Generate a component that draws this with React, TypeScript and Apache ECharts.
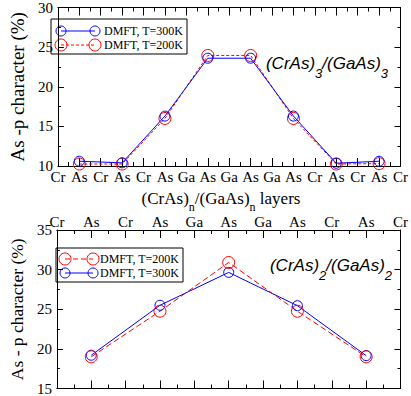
import React, { useEffect, useRef } from "react";
import * as echarts from "echarts";

const topLabels = ["Cr", "As", "Cr", "As", "Cr", "As", "Ga", "As", "Ga", "As", "Ga", "As", "Cr", "As", "Cr", "As", "Cr"];
const bottomLabels = ["Cr", "As", "Cr", "As", "Ga", "As", "Ga", "As", "Cr", "As", "Cr"];
const topYTicks = { min: 10, max: 30, step: 5 };
const bottomYTicks = { min: 15, max: 35, step: 5 };

const top300K = [10.6, 10.4, 16.3, 23.6, 23.6, 16.3, 10.35, 10.6];
const top200K = [10.25, 10.25, 16.0, 23.95, 23.95, 16.0, 10.25, 10.3];
const bottom200K = [19.0, 24.75, 30.9, 24.75, 19.0];
const bottom300K = [19.2, 25.5, 29.65, 25.45, 19.15];

const SERIF = "Liberation Serif, Times New Roman, serif";
const SANS = "Liberation Sans, Arial, sans-serif";
const BLUE = "#0000ff";
const RED = "#ff0000";

const asIndices = (labels: string[]) =>
  labels.map((l, i) => (l === "As" ? i : -1)).filter((i) => i >= 0);

const pairs = (labels: string[], vals: number[]) => {
  const xs = asIndices(labels);
  return vals.map((v, i) => [xs[i], v]);
};

function xAxisDef(grid: number, pos: "top" | "bottom", labels: string[], showLabels: boolean, margin: number) {
  return {
    gridIndex: grid,
    type: "value",
    position: pos,
    min: 0,
    max: labels.length - 1,
    interval: 1,
    axisLine: { show: true, onZero: false, lineStyle: { color: "#000", width: 1 } },
    axisTick: { show: true, inside: true, length: 8, lineStyle: { color: "#000", width: 1 } },
    minorTick: { show: true, splitNumber: 2, length: 4, lineStyle: { color: "#000", width: 1 } },
    splitLine: { show: false },
    axisLabel: {
      show: showLabels,
      margin,
      fontSize: 15,
      fontFamily: SERIF,
      color: "#000",
      formatter: (v: number) => labels[Math.round(v)] ?? "",
    },
  };
}

function yAxisDef(grid: number, pos: "left" | "right", t: { min: number; max: number; step: number }, name: string, nameSize: number) {
  const left = pos === "left";
  return {
    gridIndex: grid,
    type: "value",
    position: pos,
    min: t.min,
    max: t.max,
    interval: t.step,
    name: left ? name : "",
    nameLocation: "middle",
    nameGap: 14,
    nameTextStyle: { fontSize: nameSize, fontFamily: SERIF, color: "#000" },
    axisLine: { show: true, onZero: false, lineStyle: { color: "#000", width: 1 } },
    axisTick: { show: true, inside: true, length: 6, lineStyle: { color: "#000", width: 1 } },
    minorTick: { show: true, splitNumber: 2, length: 3, lineStyle: { color: "#000", width: 1 } },
    splitLine: { show: false },
    axisLabel: { show: left, margin: 5, fontSize: 15, fontFamily: SERIF, color: "#000" },
  };
}

function lineSeries(data: number[][], color: string, dashed: number[] | null, size: number, xi: number, yi: number) {
  return {
    type: "line",
    xAxisIndex: xi,
    yAxisIndex: yi,
    data,
    symbol: "circle",
    symbolSize: size,
    itemStyle: { color: "rgba(0,0,0,0)", borderColor: color, borderWidth: 1 },
    lineStyle: { color, width: 1, type: dashed ? dashed : "solid" },
    emphasis: { disabled: true },
  };
}

function legendRow(x1: number, x2: number, y: number, color: string, dashed: number[] | null, r: number, label: string, tx: number) {
  return [
    { type: "line", shape: { x1, y1: y, x2, y2: y }, style: { stroke: color, lineWidth: 1, lineDash: dashed || undefined } },
    { type: "circle", shape: { cx: x1, cy: y, r }, style: { fill: "none", stroke: color, lineWidth: 1 } },
    { type: "circle", shape: { cx: x2, cy: y, r }, style: { fill: "none", stroke: color, lineWidth: 1 } },
    { type: "text", x: tx, y, style: { text: label, fontSize: 12, fontFamily: SERIF, fill: "#000", verticalAlign: "middle", align: "left" } },
  ];
}

function subText(x: number, y: number, parts: [string, string][], mainSize: number, subSize: number, family: string, italic: boolean, subLH: number) {
  const rich = {
    m: { fontSize: mainSize, fontFamily: family, fontStyle: italic ? "italic" : "normal", lineHeight: 20, verticalAlign: "top", fill: "#000" },
    s: { fontSize: subSize, fontFamily: family, fontStyle: italic ? "italic" : "normal", lineHeight: subLH, verticalAlign: "bottom", fill: "#000" },
  };
  const text = parts.map(([k, t]) => `{${k}|${t}}`).join("");
  return { type: "text", x, y, style: { text, rich, align: "center", verticalAlign: "top" } };
}

export default function App() {
  const ref = useRef<HTMLDivElement>(null);
  useEffect(() => {
    if (!ref.current) return;
    const chart = echarts.init(ref.current, null, { renderer: "svg" });
    const option = {
      animation: false,
      backgroundColor: "#fff",
      grid: [
        { left: 40, top: 6, width: 362, height: 160 },
        { left: 40, top: 230, width: 362, height: 159 },
      ],
      xAxis: [
        xAxisDef(0, "bottom", topLabels, true, 3),
        xAxisDef(0, "top", topLabels, false, 3),
        xAxisDef(1, "top", bottomLabels, true, 1),
        xAxisDef(1, "bottom", bottomLabels, false, 1),
      ],
      yAxis: [
        yAxisDef(0, "left", topYTicks, "As -p character (%)", 19),
        yAxisDef(0, "right", topYTicks, "", 19),
        yAxisDef(1, "left", bottomYTicks, "As - p character (%)", 17.5),
        yAxisDef(1, "right", bottomYTicks, "", 17.5),
      ],
      series: [
        lineSeries(pairs(topLabels, top200K), RED, [3, 2], 12, 0, 0),
        lineSeries(pairs(topLabels, top300K), BLUE, null, 10, 0, 0),
        lineSeries(pairs(bottomLabels, bottom300K), BLUE, null, 10, 2, 2),
        lineSeries(pairs(bottomLabels, bottom200K), RED, [6, 3], 12, 2, 2),
      ],
      graphic: [
        { type: "rect", shape: { x: 51, y: 19, width: 136, height: 35 }, style: { fill: "#fff", stroke: "#000", lineWidth: 1 } },
        ...legendRow(61, 95, 31, BLUE, null, 5, "DMFT, T=300K", 104),
        ...legendRow(61, 95, 45, RED, [3, 2], 6, "DMFT, T=200K", 104),
        { type: "rect", shape: { x: 56, y: 248, width: 127, height: 34 }, style: { fill: "#fff", stroke: "#000", lineWidth: 1 } },
        ...legendRow(65, 93, 259, RED, [5, 3], 6, "DMFT, T=200K", 100),
        ...legendRow(65, 93, 273, BLUE, null, 5, "DMFT, T=300K", 100),
        subText(327, 55, [["m", "(CrAs)"], ["s", "3"], ["m", "/(GaAs)"], ["s", "3"]], 17, 13, SANS, true, 25),
        subText(331, 257, [["m", "(CrAs)"], ["s", "2"], ["m", "/(GaAs)"], ["s", "2"]], 17, 13, SANS, true, 25),
        subText(221, 190, [["m", "(CrAs)"], ["s", "n"], ["m", "/(GaAs)"], ["s", "n"], ["m", " layers"]], 17, 12, SERIF, false, 23),
      ],
    };
    chart.setOption(option as any);
    return () => chart.dispose();
  }, []);
  return <div ref={ref} style={{ position: "absolute", left: 0, top: 0, width: 411, height: 396 }} />;
}
